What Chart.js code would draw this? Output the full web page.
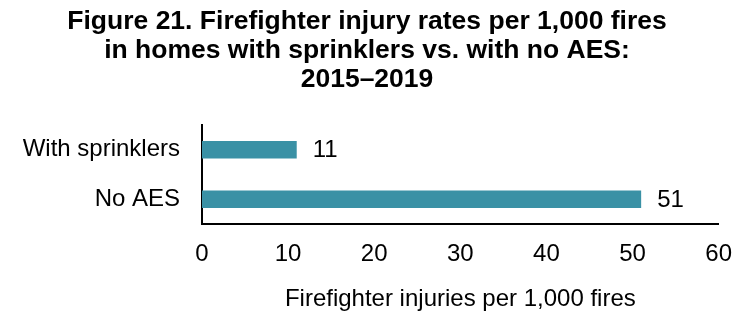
<!DOCTYPE html>
<html>
<head>
<meta charset="utf-8">
<script src="https://cdn.jsdelivr.net/npm/chart.js@4"></script>
<style>
  body { margin: 0; background: #fff; }
</style>
</head>
<body>
<canvas id="chart" width="748" height="314"></canvas>
<script>
const categories = ['With sprinklers', 'No AES'];
const injuryRates = [11, 51];
const xTicks = [0, 10, 20, 30, 40, 50, 60];

const chartCanvas = document.getElementById('chart');
const fontFamily = '"Liberation Sans", Arial, sans-serif';

// draws the number just right of each bar
const valueLabels = {
    id: 'valueLabels',
    afterLayout(chart) {
        // nudge the title a bit right, like the original
        chart.titleBlock.left += 14;
    },
    afterDatasetsDraw(chart) {
        const ctx = chart.ctx;
        const meta = chart.getDatasetMeta(0);
        ctx.save();
        ctx.font = '24px ' + fontFamily;
        ctx.fillStyle = '#000';
        ctx.textAlign = 'left';
        ctx.textBaseline = 'middle';
        meta.data.forEach(function (bar, i) {
            ctx.fillText(injuryRates[i], bar.x + 16, bar.y + 1);
        });
        ctx.restore();
    }
};

const chart = new Chart(chartCanvas, {
    type: 'bar',
    data: {
        labels: categories,
        datasets: [{
            data: injuryRates,
            backgroundColor: '#3a91a5',
            borderWidth: 0,
            barPercentage: 0.35,
            categoryPercentage: 1
        }]
    },
    plugins: [valueLabels],
    options: {
        indexAxis: 'y',
        responsive: false,
        animation: false,
        layout: { padding: { left: 0, right: 28, top: 0, bottom: 0 } },
        plugins: {
            legend: { display: false },
            tooltip: { enabled: false },
            title: {
                display: true,
                text: [
                    'Figure 21. Firefighter injury rates per 1,000 fires',
                    'in homes with sprinklers vs. with no AES:',
                    '2015\u20132019'
                ],
                color: '#000',
                font: { family: fontFamily, size: 26.5, weight: 'bold', lineHeight: 1.1 },
                padding: { top: 7, bottom: 30.5 }
            }
        },
        scales: {
            x: {
                min: 0,
                max: 60,
                afterBuildTicks: function (axis) {
                    axis.ticks = xTicks.map(function (v) { return { value: v }; });
                },
                afterFit: function (axis) { axis.height = 90; },
                grid: { display: false, drawTicks: false },
                border: { display: true, color: '#000', width: 2 },
                ticks: {
                    color: '#000',
                    padding: 16,
                    font: { family: fontFamily, size: 24 }
                },
                title: {
                    display: true,
                    text: 'Firefighter injuries per 1,000 fires',
                    color: '#000',
                    padding: { top: 10, bottom: 0 },
                    font: { family: fontFamily, size: 24 }
                }
            },
            y: {
                afterFit: function (axis) { axis.width = 202; },
                grid: { display: false, drawTicks: false },
                border: { display: true, color: '#000', width: 2 },
                ticks: {
                    color: '#000',
                    padding: 22,
                    font: { family: fontFamily, size: 24 }
                }
            }
        }
    }
});
</script>
</body>
</html>
